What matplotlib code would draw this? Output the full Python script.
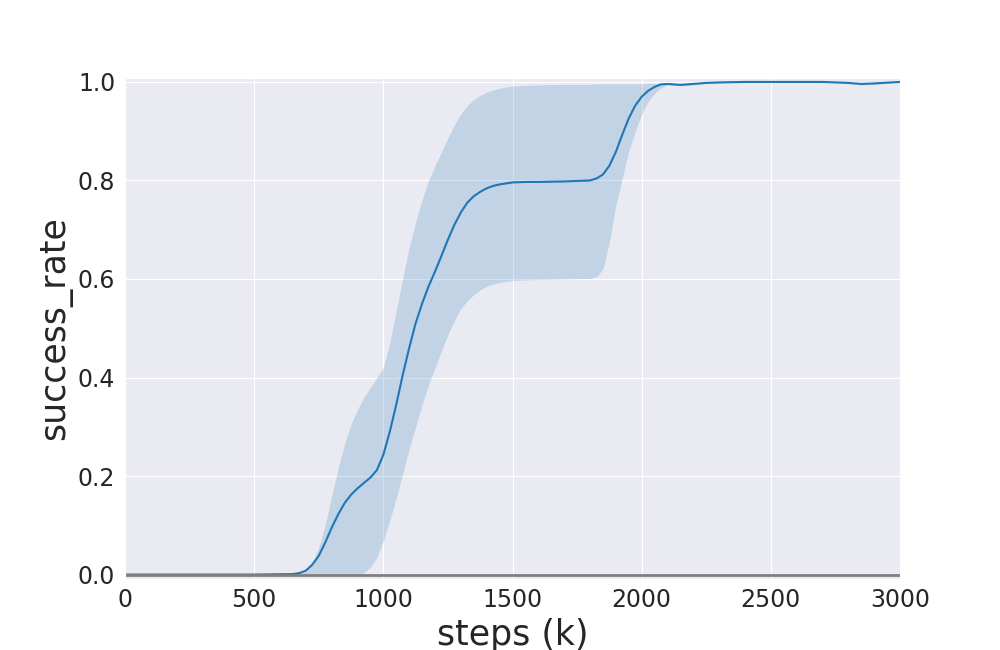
import matplotlib
matplotlib.use("Agg")
from matplotlib import pyplot as plt
import seaborn as sns
import numpy as np

steps = [0, 500, 650, 675, 700, 725, 750, 775, 800, 825,
         850, 875, 900, 925, 950, 975, 1000, 1025, 1050, 1075,
         1100, 1125, 1150, 1175, 1200, 1225, 1250, 1275, 1300, 1325,
         1350, 1375, 1400, 1425, 1450, 1500, 1550, 1600, 1700, 1800,
         1825, 1850, 1875, 1900, 1925, 1950, 1975, 2000, 2025, 2050,
         2075, 2100, 2125, 2150, 2200, 2250, 2300, 2400, 2500, 2600,
         2700, 2800, 2850, 2900, 3000]

mean = [0, 0, .001, .003, .008, .02, .038, .065, .095, .122,
        .145, .162, .175, .186, .197, .212, .243, .29, .345, .405,
        .46, .51, .55, .585, .615, .647, .68, .71, .735, .755,
        .768, .777, .784, .789, .792, .796, .797, .797, .798, .800,
        .804, .812, .83, .858, .893, .926, .952, .97, .982, .99,
        .995, .996, .995, .994, .996, .998, .999, 1, 1, 1,
        1, .998, .996, .997, 1]

upper = [0, 0, .001, .003, .01, .025, .055, .1, .16, .215,
         .265, .305, .335, .36, .38, .4, .42, .47, .535, .6,
         .665, .715, .76, .8, .83, .858, .886, .913, .935, .952,
         .964, .973, .979, .984, .987, .992, .993, .994, .995, .995,
         .996, .996, .996, .996, .996, .996, .996, .996, .997, .997,
         .998, .998, .997, .996, .998, .999, 1, 1, 1, 1,
         1, .999, .998, .999, 1]

lower = [0, 0, 0, 0, 0, 0, 0, 0, 0, 0,
         0, 0, 0, .004, .015, .035, .068, .11, .155, .205,
         .255, .3, .345, .385, .42, .455, .487, .515, .54, .556,
         .568, .578, .585, .59, .593, .597, .598, .599, .6, .601,
         .605, .62, .675, .75, .805, .86, .9, .935, .96, .977,
         .988, .994, .993, .992, .994, .997, .998, 1, 1, 1,
         1, .997, .994, .995, 1]

baseline_steps = [0, 3000]
baseline = [0.0, 0.0]

sns.set_style("darkgrid")
fig = plt.figure(figsize=(10, 6.5), dpi=100)
ax = fig.add_subplot(111)

ax.fill_between(steps, lower, upper, color="#1f77b4", alpha=0.2, linewidth=0)
ax.plot(steps, mean, color="#1f77b4", linewidth=1.5)
ax.plot(baseline_steps, baseline, color="#7f7f7f", linewidth=2)

ax.set_xlim(0, 3000)
ax.set_ylim(-0.008, 1.008)
ax.set_xlabel("steps (k)", fontsize=25)
ax.set_ylabel("success_rate", fontsize=25)
ax.tick_params(labelsize=17)

plt.savefig("out.png")
